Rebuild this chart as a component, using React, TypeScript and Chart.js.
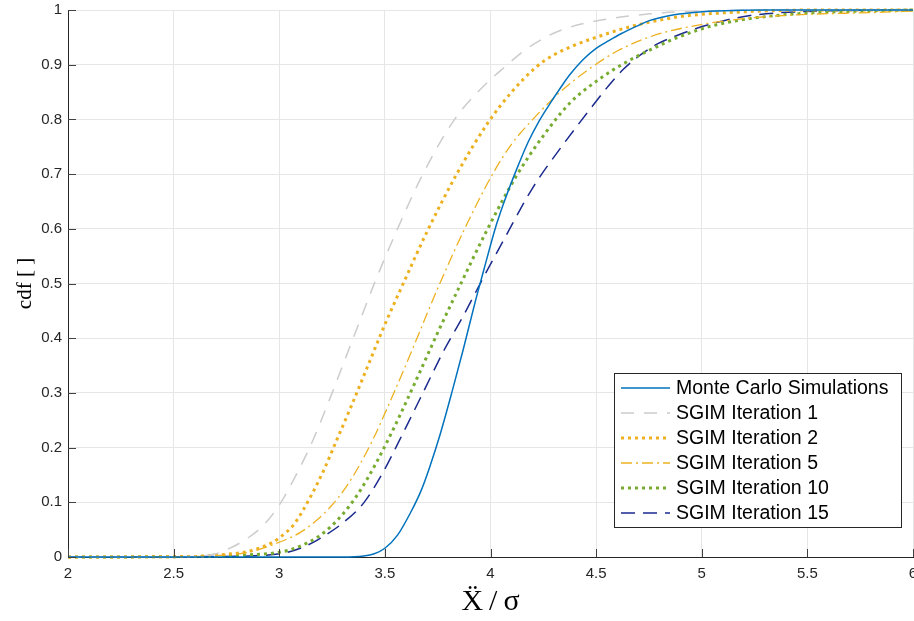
import React, { useEffect, useRef } from "react";
import { Chart, registerables } from "chart.js";

Chart.register(...registerables);

// ---- Data ----
const mcX = [2.0, 3.3, 3.4, 3.45, 3.5, 3.56, 3.62, 3.67, 3.71, 3.76, 3.82, 3.87, 3.93, 3.965, 4.0, 4.03, 4.07, 4.125, 4.18, 4.23, 4.28, 4.33, 4.376, 4.44, 4.5, 4.56, 4.62, 4.69, 4.755, 4.85, 4.95, 5.07, 5.3, 6.0];
const mcY = [0, 0, 0.002, 0.006, 0.016, 0.04, 0.08, 0.12, 0.162, 0.222, 0.305, 0.378, 0.47, 0.52, 0.57, 0.61, 0.655, 0.71, 0.76, 0.797, 0.828, 0.857, 0.882, 0.91, 0.93, 0.944, 0.957, 0.97, 0.981, 0.99, 0.995, 0.998, 1.0, 1.0];

const it1X = [2.0, 2.6, 2.7, 2.75, 2.86, 2.93, 3.0, 3.08, 3.16, 3.24, 3.32, 3.39, 3.45, 3.56, 3.68, 3.83, 3.96, 4.08, 4.15, 4.28, 4.38, 4.5, 4.755, 5.0, 5.5, 6.0];
const it1Y = [0, 0.001, 0.006, 0.013, 0.037, 0.06, 0.095, 0.15, 0.214, 0.29, 0.37, 0.44, 0.5, 0.6, 0.7, 0.8, 0.858, 0.9, 0.923, 0.954, 0.969, 0.98, 0.993, 0.998, 1.0, 1.0];

const it2X = [2.0, 2.6, 2.75, 2.85, 2.96, 3.0, 3.07, 3.145, 3.21, 3.27, 3.34, 3.42, 3.5, 3.587, 3.7, 3.84, 3.99, 4.1, 4.22, 4.3, 4.4, 4.5, 4.62, 4.755, 4.9, 5.07, 5.55, 6.0];
const it2Y = [0, 0.001, 0.005, 0.01, 0.025, 0.035, 0.06, 0.108, 0.158, 0.212, 0.275, 0.35, 0.425, 0.5, 0.595, 0.7, 0.795, 0.85, 0.897, 0.918, 0.936, 0.95, 0.965, 0.978, 0.988, 0.994, 1.0, 1.0];

const it5X = [2.0, 2.6, 2.75, 2.86, 3.0, 3.1, 3.18, 3.25, 3.32, 3.38, 3.44, 3.52, 3.62, 3.7, 3.76, 3.89, 4.01, 4.1, 4.2, 4.28, 4.36, 4.47, 4.6, 4.755, 4.99, 5.31, 5.86, 6.0];
const it5Y = [0, 0.001, 0.004, 0.009, 0.027, 0.045, 0.068, 0.095, 0.13, 0.168, 0.212, 0.28, 0.37, 0.445, 0.5, 0.61, 0.7, 0.755, 0.8, 0.832, 0.86, 0.893, 0.925, 0.951, 0.973, 0.988, 0.996, 0.998];

const it10X = [2.0, 2.6, 2.86, 3.02, 3.1, 3.18, 3.24, 3.3, 3.36, 3.42, 3.49, 3.57, 3.65, 3.75, 3.86, 3.98, 4.12, 4.25, 4.376, 4.52, 4.63, 4.755, 4.9, 5.07, 5.38, 5.86, 6.0];
const it10Y = [0, 0.001, 0.004, 0.01, 0.02, 0.036, 0.054, 0.078, 0.108, 0.145, 0.195, 0.258, 0.325, 0.41, 0.5, 0.595, 0.695, 0.77, 0.83, 0.875, 0.902, 0.927, 0.952, 0.973, 0.991, 0.999, 1.0];

const it15X = [2.0, 2.7, 2.86, 3.02, 3.1, 3.18, 3.3, 3.4, 3.49, 3.57, 3.68, 3.78, 3.87, 3.965, 4.07, 4.2, 4.34, 4.47, 4.56, 4.63, 4.71, 4.79, 4.88, 4.98, 5.1, 5.23, 5.55, 6.0];
const it15Y = [0, 0.001, 0.002, 0.007, 0.016, 0.031, 0.062, 0.099, 0.154, 0.214, 0.3, 0.378, 0.44, 0.51, 0.585, 0.675, 0.752, 0.818, 0.862, 0.892, 0.918, 0.938, 0.953, 0.967, 0.98, 0.99, 0.998, 1.0];

const seriesLabels = [
  "Monte Carlo Simulations",
  "SGIM Iteration 1",
  "SGIM Iteration 2",
  "SGIM Iteration 5",
  "SGIM Iteration 10",
  "SGIM Iteration 15",
];

const xTickValues = [2, 2.5, 3, 3.5, 4, 4.5, 5, 5.5, 6];
const xTickLabels = ["2", "2.5", "3", "3.5", "4", "4.5", "5", "5.5", "6"];
const yTickValues = [0, 0.1, 0.2, 0.3, 0.4, 0.5, 0.6, 0.7, 0.8, 0.9, 1];
const yTickLabels = ["0", "0.1", "0.2", "0.3", "0.4", "0.5", "0.6", "0.7", "0.8", "0.9", "1"];

const xTitle = "Ẍ\u2009/\u2009σ";
const yTitle = "cdf [ ]";

// ---- helpers ----
function toPoints(xs: number[], ys: number[]) {
  return xs.map((x, i) => ({ x, y: ys[i] }));
}

const AXIS_COLOR = "#262626";

const inwardTicks = {
  id: "inwardTicks",
  afterDatasetsDraw(chart: any) {
    const { ctx, chartArea, scales } = chart;
    ctx.save();
    ctx.strokeStyle = "#404040";
    ctx.lineWidth = 1;
    ctx.beginPath();
    xTickValues.forEach((v) => {
      const px = Math.round(scales.x.getPixelForValue(v)) + 0.5;
      ctx.moveTo(px, chartArea.bottom);
      ctx.lineTo(px, chartArea.bottom - 8);
    });
    yTickValues.forEach((v) => {
      const py = Math.round(scales.y.getPixelForValue(v)) + 0.5;
      ctx.moveTo(chartArea.left, py);
      ctx.lineTo(chartArea.left + 8, py);
    });
    ctx.stroke();
    ctx.restore();
  },
};

const boxLegend = {
  id: "boxLegend",
  afterDraw(chart: any) {
    const { ctx } = chart;
    const left = 614.5;
    const top = 373.5;
    const w = 287;
    const h = 154;
    ctx.save();
    ctx.fillStyle = "#ffffff";
    ctx.fillRect(left, top, w, h);
    ctx.strokeStyle = AXIS_COLOR;
    ctx.lineWidth = 1;
    ctx.strokeRect(left, top, w, h);
    chart.data.datasets.forEach((ds: any, i: number) => {
      const cy = 388 + i * 25;
      ctx.save();
      ctx.strokeStyle = ds.borderColor;
      ctx.lineWidth = ds.borderWidth;
      ctx.setLineDash(ds.borderDash || []);
      ctx.beginPath();
      ctx.moveTo(621, cy);
      ctx.lineTo(670, cy);
      ctx.stroke();
      ctx.restore();
      ctx.fillStyle = "#000000";
      ctx.font = "19.5px 'Liberation Sans', Arial, sans-serif";
      ctx.textBaseline = "middle";
      ctx.textAlign = "left";
      ctx.fillText(ds.label, 676, cy + 1);
    });
    ctx.restore();
  },
};

export default function App() {
  const canvasRef = useRef<HTMLCanvasElement | null>(null);

  useEffect(() => {
    if (!canvasRef.current) return;
    const common = {
      fill: false,
      pointRadius: 0,
      cubicInterpolationMode: "monotone" as const,
      clip: 6,
    };
    const chart = new Chart(canvasRef.current, {
      type: "line",
      data: {
        datasets: [
          { ...common, label: seriesLabels[0], data: toPoints(mcX, mcY), borderColor: "#0072BD", borderWidth: 1.5, borderDash: [] },
          { ...common, label: seriesLabels[1], data: toPoints(it1X, it1Y), borderColor: "#CCCCCC", borderWidth: 1.5, borderDash: [13, 10] },
          { ...common, label: seriesLabels[2], data: toPoints(it2X, it2Y), borderColor: "#EDB120", borderWidth: 3, borderDash: [3, 4] },
          { ...common, label: seriesLabels[3], data: toPoints(it5X, it5Y), borderColor: "#EDB120", borderWidth: 1.3, borderDash: [11, 4, 2, 4] },
          { ...common, label: seriesLabels[4], data: toPoints(it10X, it10Y), borderColor: "#77AC30", borderWidth: 3, borderDash: [3, 4] },
          { ...common, label: seriesLabels[5], data: toPoints(it15X, it15Y), borderColor: "#1B2A8E", borderWidth: 1.5, borderDash: [14, 8] },
        ],
      },
      options: {
        animation: false,
        responsive: false,
        devicePixelRatio: 1,
        layout: { padding: { left: 0, right: 1, top: 10, bottom: 0 } },
        plugins: {
          legend: { display: false },
          tooltip: { enabled: false },
        },
        scales: {
          x: {
            type: "linear",
            min: 2,
            max: 6,
            afterBuildTicks: (s: any) => {
              s.ticks = xTickValues.map((v) => ({ value: v }));
            },
            afterFit: (s: any) => {
              s.height = 64;
              s.paddingLeft = 0;
              s.paddingRight = 0;
            },
            ticks: {
              autoSkip: false,
              maxRotation: 0,
              padding: 8,
              color: AXIS_COLOR,
              font: { family: "'Liberation Sans', Arial, sans-serif", size: 15 },
              callback: (_v: any, i: number) => xTickLabels[i],
            },
            grid: { color: "#E6E6E6", lineWidth: 1, drawTicks: false },
            border: { display: true, color: AXIS_COLOR, width: 1 },
            title: {
              display: true,
              text: xTitle,
              color: "#000000",
              font: { family: "'Liberation Serif', 'DejaVu Serif', serif", size: 30, lineHeight: 1 },
              padding: { top: 0, bottom: 4 },
            },
          },
          y: {
            type: "linear",
            min: 0,
            max: 1,
            afterBuildTicks: (s: any) => {
              s.ticks = yTickValues.map((v) => ({ value: v }));
            },
            afterFit: (s: any) => {
              s.width = 68;
              s.paddingTop = 0;
              s.paddingBottom = 0;
            },
            ticks: {
              autoSkip: false,
              padding: 6,
              color: AXIS_COLOR,
              font: { family: "'Liberation Sans', Arial, sans-serif", size: 15 },
              callback: (_v: any, i: number) => yTickLabels[i],
            },
            grid: { color: "#E6E6E6", lineWidth: 1, drawTicks: false },
            border: { display: true, color: AXIS_COLOR, width: 1 },
            title: {
              display: true,
              text: yTitle,
              color: "#000000",
              font: { family: "'Liberation Serif', 'DejaVu Serif', serif", size: 21, lineHeight: 1 },
              padding: { top: 15, bottom: 0 },
            },
          },
        },
      },
      plugins: [inwardTicks, boxLegend],
    } as any);
    return () => chart.destroy();
  }, []);

  return (
    <div style={{ position: "absolute", left: 0, top: 0, width: 914, height: 621, background: "#ffffff" }}>
      <canvas ref={canvasRef} width={914} height={621} style={{ display: "block", width: 914, height: 621 }} />
    </div>
  );
}
